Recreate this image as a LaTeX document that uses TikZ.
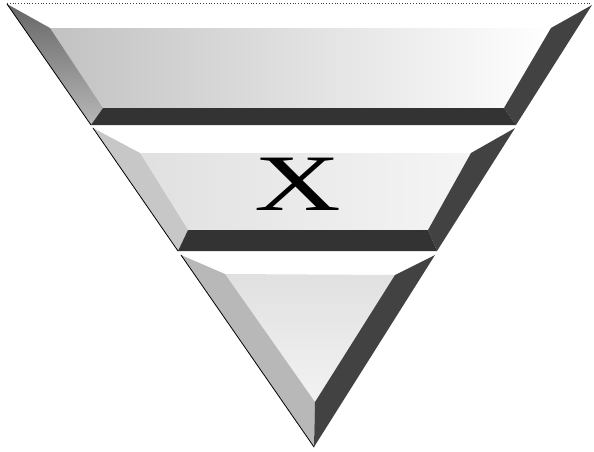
\documentclass[tikz,border=0pt]{standalone}
\usepackage{fontspec}
\setmainfont{Liberation Serif}
\usetikzlibrary{positioning}

\begin{document}
\begin{tikzpicture}[
  x=1pt, y=-1pt,
  lbev/.style={fill=black!38},
  rbev/.style={fill=black!74},
  band/.style={fill=black!80},
  face/.style={fill=black!7},
  rim/.style={draw=black, line width=0.8pt, line cap=round}
]
\useasboundingbox (0,0) rectangle (594,451);
% top tier
\coordinate (a1) at (7,4);    \coordinate (b1) at (592,5);
\coordinate (c1) at (516,125); \coordinate (d1) at (91,125);
\coordinate (p1) at (50,28);  \coordinate (q1) at (551,28);
\coordinate (r1) at (504,108); \coordinate (s1) at (103,108);
\shade[left color=black!24, right color=white] (p1) -- (q1) -- (r1) -- (s1) -- cycle;
\shade[top color=black!60, bottom color=black!28] (a1) -- (p1) -- (s1) -- (d1) -- cycle;
\fill[rbev] (b1) -- (q1) -- (r1) -- (c1) -- cycle;
\fill[band] (d1) -- (s1) -- (r1) -- (c1) -- cycle;
% middle tier
\coordinate (a2) at (93,128);  \coordinate (b2) at (515,128);
\coordinate (c2) at (437,251); \coordinate (d2) at (178,251);
\coordinate (p2) at (140,153); \coordinate (q2) at (471,153);
\coordinate (r2) at (428,230); \coordinate (s2) at (188,230);
\shade[left color=black!12, right color=black!4] (p2) -- (q2) -- (r2) -- (s2) -- cycle;
\fill[lbev, fill=black!22] (a2) -- (p2) -- (s2) -- (d2) -- cycle;
\fill[rbev] (b2) -- (q2) -- (r2) -- (c2) -- cycle;
\fill[band] (d2) -- (s2) -- (r2) -- (c2) -- cycle;
% bottom tier
\coordinate (a3) at (181,255); \coordinate (b3) at (435,255);
\coordinate (p3) at (225,274); \coordinate (q3) at (395,275);
\coordinate (r3) at (315,402); \coordinate (tip) at (314,447);
\shade[top color=black!12, bottom color=black!5] (p3) -- (q3) -- (r3) -- cycle;
\fill[lbev, fill=black!28] (a3) -- (p3) -- (r3) -- (tip) -- cycle;
\fill[rbev] (b3) -- (q3) -- (r3) -- (tip) -- cycle;
% outer rims
\draw[rim] (a1) -- (d1);
\draw[rim] (a2) -- (d2);
\draw[rim] (a3) -- (tip);
\draw[black!75, dotted, line width=0.8pt] (7,3) -- (592,3);
\node[inner sep=0pt, font=\fontsize{80}{80}\selectfont] (x) at (298,184) {\scalebox{1.5}[1]{X}};
\end{tikzpicture}
\end{document}
